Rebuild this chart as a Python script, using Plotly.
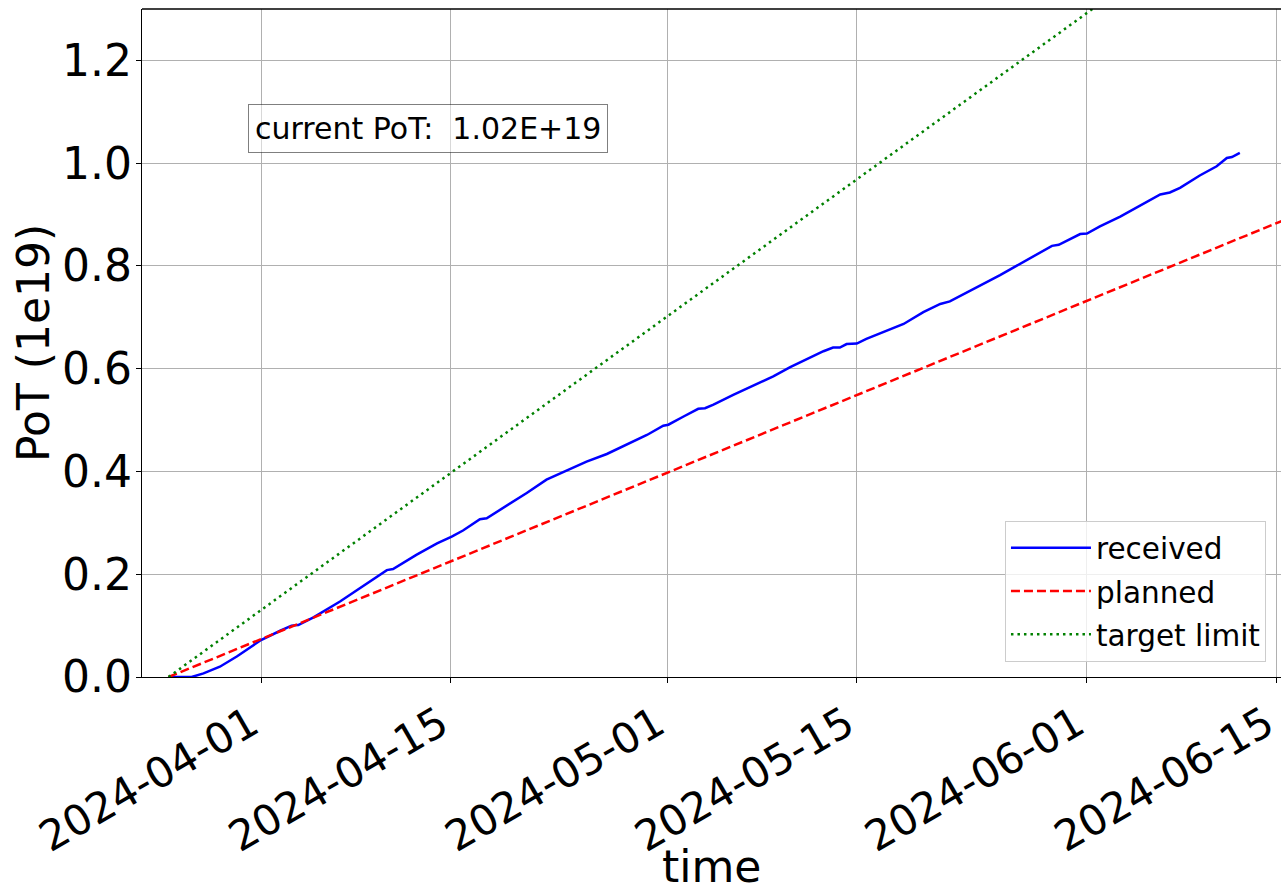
import plotly.graph_objects as go

# Received protons-on-target (units of 1e19), cumulative
received_time = [
    "2024-03-25 04:00", "2024-03-26 21:00", "2024-03-27 18:00", "2024-03-28 23:00",
    "2024-03-30 05:00", "2024-04-01 00:00", "2024-04-02 10:00", "2024-04-03 06:00",
    "2024-04-03 18:00", "2024-04-04 21:00", "2024-04-06 20:00", "2024-04-08 19:00",
    "2024-04-10 07:00", "2024-04-10 18:00", "2024-04-12 12:00", "2024-04-14 00:00",
    "2024-04-15 02:00", "2024-04-15 22:00", "2024-04-17 04:00", "2024-04-17 16:00",
    "2024-04-19 04:00", "2024-04-20 15:00", "2024-04-22 02:00", "2024-04-23 14:00",
    "2024-04-24 13:00", "2024-04-25 01:00", "2024-04-26 13:00", "2024-04-28 00:00",
    "2024-04-29 12:00", "2024-04-30 17:00", "2024-05-01 02:00", "2024-05-02 05:00",
    "2024-05-03 07:00", "2024-05-03 19:00", "2024-05-04 10:00", "2024-05-05 21:00",
    "2024-05-07 14:00", "2024-05-08 20:00", "2024-05-10 02:00", "2024-05-11 13:00",
    "2024-05-12 13:00", "2024-05-13 06:00", "2024-05-13 18:00", "2024-05-14 06:00",
    "2024-05-15 00:00", "2024-05-15 17:00", "2024-05-16 23:00", "2024-05-18 11:00",
    "2024-05-19 22:00", "2024-05-21 04:00", "2024-05-21 21:00", "2024-05-23 03:00",
    "2024-05-24 02:00", "2024-05-25 14:00", "2024-05-26 19:00", "2024-05-28 01:00",
    "2024-05-29 10:00", "2024-05-29 22:00", "2024-05-30 12:00", "2024-05-31 12:00",
    "2024-06-01 00:00", "2024-06-01 23:00", "2024-06-03 11:00", "2024-06-04 22:00",
    "2024-06-06 10:00", "2024-06-07 03:00", "2024-06-07 21:00", "2024-06-09 08:00",
    "2024-06-10 14:00", "2024-06-11 08:00", "2024-06-11 17:00", "2024-06-12 07:00",
]
received_pot = [
    0.000, 0.000, 0.007, 0.020,
    0.040, 0.072, 0.090, 0.100,
    0.101, 0.116, 0.147, 0.182,
    0.208, 0.210, 0.238, 0.260,
    0.273, 0.285, 0.307, 0.309,
    0.333, 0.358, 0.384, 0.402,
    0.413, 0.419, 0.434, 0.452,
    0.471, 0.489, 0.491, 0.507,
    0.522, 0.523, 0.530, 0.549,
    0.569, 0.585, 0.603, 0.621,
    0.634, 0.641, 0.641, 0.648,
    0.649, 0.658, 0.671, 0.687,
    0.710, 0.726, 0.731, 0.748,
    0.760, 0.782, 0.800, 0.819,
    0.839, 0.841, 0.849, 0.862,
    0.863, 0.877, 0.896, 0.917,
    0.939, 0.943, 0.952, 0.976,
    0.994, 1.010, 1.012, 1.020,
]

# Planned delivery and target limit (straight lines)
planned_time = ["2024-03-25 04:00", "2024-06-16 00:00"]
planned_pot = [0.0, 0.894]
target_time = ["2024-03-25 04:00", "2024-06-16 00:00"]
target_pot = [0.0, 1.578]

tick_dates = ["2024-04-01", "2024-04-15", "2024-05-01", "2024-05-15", "2024-06-01", "2024-06-15"]
y_ticks = [0.0, 0.2, 0.4, 0.6, 0.8, 1.0, 1.2]

FONT = "DejaVu Sans"
TITLE_SIZE = 44

fig = go.Figure()
fig.add_trace(go.Scatter(x=received_time, y=received_pot, mode="lines", name="received",
                         legendgroup="received",
                         line=dict(color="#0000ff", width=2.5)))
fig.add_trace(go.Scatter(x=planned_time, y=planned_pot, mode="lines", name="planned",
                         legendgroup="planned",
                         line=dict(color="#ff0000", width=2.5, dash="9px,4px")))
fig.add_trace(go.Scatter(x=target_time, y=target_pot, mode="lines", name="target limit",
                         legendgroup="target",
                         line=dict(color="#008000", width=2.5, dash="2.5px,4px")))

current = received_pot[-1] * 1e19
fig.add_annotation(
    x=0.2515, y=0.821, xref="paper", yref="paper", xanchor="center", yanchor="middle",
    text=f"current PoT:\u00a0 {current:.2E}",
    showarrow=False, font=dict(family=FONT, size=30, color="black"),
    bgcolor="rgba(255,255,255,0.5)", bordercolor="rgba(0,0,0,0.5)",
    borderwidth=1, borderpad=6,
)

# axis titles
fig.add_annotation(
    x=0.5, y=0, xref="paper", yref="paper", xanchor="center", yanchor="top",
    yshift=-163, text="time", showarrow=False, borderpad=0,
    font=dict(family=FONT, size=TITLE_SIZE, color="black"),
)
fig.add_annotation(
    x=0, y=0.5, xref="paper", yref="paper", xanchor="center", yanchor="middle",
    xshift=-109, textangle=-90, text="PoT (1e19)", showarrow=False, borderpad=0,
    font=dict(family=FONT, size=TITLE_SIZE, color="black"),
)

# top spine
fig.add_shape(type="line", xref="paper", yref="paper", x0=0, x1=1, y0=1, y1=1,
              line=dict(color="black", width=1.3))

fig.update_layout(
    width=1281, height=891,
    margin=dict(l=142, r=0, t=9, b=214),
    paper_bgcolor="white", plot_bgcolor="white",
    font=dict(family=FONT, size=42, color="black"),
    showlegend=True,
    legend=dict(
        x=0.9868, y=0.0225, xanchor="right", yanchor="bottom",
        bgcolor="rgba(255,255,255,0.8)", bordercolor="#cccccc", borderwidth=1,
        font=dict(family=FONT, size=29.5, color="black"),
        itemwidth=80, tracegroupgap=2, traceorder="grouped",
    ),
)
fig.update_xaxes(
    type="date", automargin=False,
    range=["2024-03-23 05:00", "2024-06-15 08:00"],
    tickvals=tick_dates, tickformat="%Y-%m-%d", tickangle=-30,
    ticklabeloverflow="allow", ticklabelshift=-10,
    showgrid=True, gridcolor="#b0b0b0", gridwidth=1,
    showline=True, linecolor="black", linewidth=1.3,
    ticks="outside", ticklen=5, tickwidth=1.3, tickcolor="black",
    tickfont=dict(family=FONT, size=42),
    zeroline=False,
)
fig.update_yaxes(
    automargin=False,
    range=[0, 1.3], tickvals=y_ticks, tickformat=".1f",
    ticklabelstandoff=-5,
    showgrid=True, gridcolor="#b0b0b0", gridwidth=1,
    showline=True, linecolor="black", linewidth=1.3,
    ticks="outside", ticklen=5, tickwidth=1.3, tickcolor="black",
    tickfont=dict(family=FONT, size=44),
    zeroline=False,
)

fig.write_html("out.html")
